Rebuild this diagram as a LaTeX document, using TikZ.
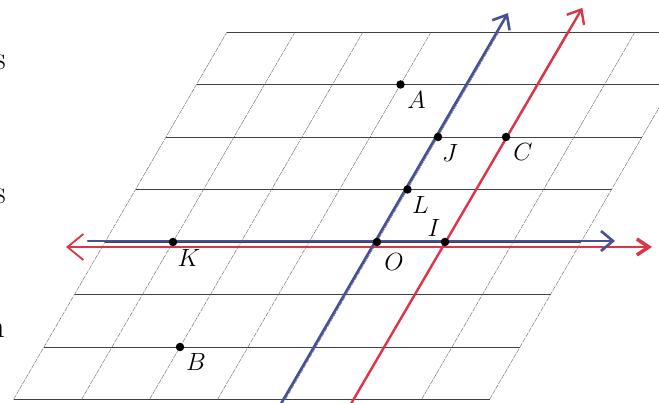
\documentclass[tikz,border=0pt]{standalone}
\usetikzlibrary{calc,arrows.meta}
\definecolor{axblue}{RGB}{70,80,150}
\definecolor{axred}{RGB}{222,52,72}
\tikzset{
  hline/.style={draw=black!75, line width=0.65pt},
  sline/.style={draw=black!65, line width=0.35pt, dash pattern=on 5pt off 1pt},
  dotpt/.style={circle, fill=black, inner sep=0pt, minimum size=8.5pt},
  lab/.style={inner sep=0pt, font=\fontsize{23}{27}\selectfont},
  frag/.style={inner sep=0pt, anchor=east, font=\fontsize{33}{36}\selectfont},
  blueax/.style={draw=axblue, line width=2.6pt, line cap=round},
  redax/.style={draw=axred, line width=2.4pt, line cap=round},
  bluetip/.style={-{Straight Barb[length=12pt,width=20pt]}},
}
\begin{document}
\begin{tikzpicture}[x=1pt,y=1pt]
\clip (0,0) rectangle (659,403);
\fill[white] (0,0) rectangle (659,403);
% fragments of text at the left edge
\node[frag] (f1) at (6,341) {s};
\node[frag] (f2) at (6,207) {s};
\node[frag] (f3) at (5,73) {n};
\begin{scope}[shift={(377pt,161pt)}, x={(68pt,0pt)}, y={(30.5pt,52.5pt)}]
  \foreach \v in {-3,...,4} \draw[hline] (-4,\v) -- (3,\v);
  \foreach \u in {-4,...,3} \draw[sline] (\u,-3) -- (\u,4);
  \coordinate (O) at (0,0);
  \coordinate (I) at (1,0);
  \coordinate (K) at (-3,0);
  \coordinate (L) at (0,1);
  \coordinate (J) at (0,2);
  \coordinate (A) at (-1,3);
  \coordinate (C) at (1,2);
  \coordinate (B) at (-2,-2);
  \coordinate (bvs) at (-0.03,-3.1);
  \coordinate (bve) at (-0.03,4.36);
  \coordinate (rvs) at (1,-3.1);
  \coordinate (rve) at (1.02,4.46);
\end{scope}
% horizontal axes
\coordinate (rhs) at (66,156);
\coordinate (rhe) at (652,156);
\coordinate (bhs) at (88,162);
\coordinate (bhe) at (615,162);
\draw[redax, line width=1.8pt, {Straight Barb[length=16pt,width=26pt]}-{Straight Barb[length=12pt,width=16pt,line width=3.5pt]}] (rhs) -- (rhe);
\draw[blueax, bluetip] (bhs) -- (bhe);
% slanted axes
\draw[blueax, bluetip] (bvs) -- (bve);
\draw[redax, -{Straight Barb[length=12pt,width=20pt]}] (rvs) -- (rve);
% points
\foreach \p in {O,I,K,L,J,A,C,B} \node[dotpt] (d\p) at (\p) {};
% labels
\node[lab] (lA) at ($(A)+(16pt,-16pt)$) {$A$};
\node[lab] (lJ) at ($(J)+(12pt,-16pt)$) {$J$};
\node[lab] (lC) at ($(C)+(17pt,-15pt)$) {$C$};
\node[lab] (lL) at ($(L)+(13pt,-16pt)$) {$L$};
\node[lab] (lI) at ($(I)+(-11pt,14pt)$) {$I$};
\node[lab] (lO) at ($(O)+(17pt,-20pt)$) {$O$};
\node[lab] (lK) at ($(K)+(16pt,-16pt)$) {$K$};
\node[lab] (lB) at ($(B)+(16pt,-15pt)$) {$B$};
\end{tikzpicture}
\end{document}
